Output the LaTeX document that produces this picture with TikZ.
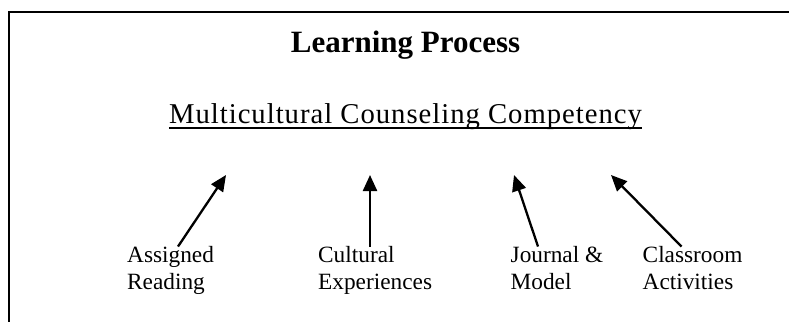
\documentclass[tikz,border=0pt]{standalone}
\usepackage{fontspec}
\setmainfont{Liberation Serif}
\usetikzlibrary{arrows.meta}
\tikzset{
  frameline/.style={line width=2pt, line cap=rect},
  titletext/.style={inner sep=0pt, anchor=base, font=\fontsize{31}{36}\selectfont\bfseries},
  goaltext/.style={inner sep=0pt, anchor=base, font=\fontsize{28.7}{32}\selectfont\addfontfeature{LetterSpace=3.4}},
  srclabel/.style={inner sep=0pt, anchor=base west, align=left, font=\fontsize{23.3}{26.6}\selectfont},
  uparrow/.style={line width=2.3pt, -{Triangle[length=16pt,width=14pt]}},
}
\begin{document}
\begin{tikzpicture}[x=1pt,y=-1pt]
\useasboundingbox (0,0) rectangle (789,321);
% frame (top and left edges visible)
\draw[frameline] (789,12.5) -- (9,12.5) -- (9,322);
% title and goal
\node[titletext] (title) at (405.5,52.5) {Learning Process};
\node[goaltext] (goal) at (405.5,123) {Multicultural Counseling Competency};
\draw[line width=2pt] ([yshift=-5pt]goal.base west) -- ([yshift=-5pt]goal.base east);
% arrow tips
\coordinate (t1) at (226,175);
\coordinate (t2) at (370,175);
\coordinate (t3) at (514,175);
\coordinate (t4) at (611,175);
% source labels (base = baseline of the last line)
\node[srclabel] (s1) at (127,289.5) {Assigned\\Reading};
\node[srclabel] (s2) at (318,289.5) {Cultural\\Experiences};
\node[srclabel] (s3) at (510.5,289.5) {Journal \&\\Model};
\node[srclabel] (s4) at (642.5,289.5) {Classroom\\Activities};
% arrows
\draw[uparrow] ([xshift=51pt]s1.north west) -- (t1);
\draw[uparrow] ([xshift=52pt]s2.north west) -- (t2);
\draw[uparrow] ([xshift=27.5pt]s3.north west) -- (t3);
\draw[uparrow] ([xshift=39pt]s4.north west) -- (t4);
\end{tikzpicture}
\end{document}
